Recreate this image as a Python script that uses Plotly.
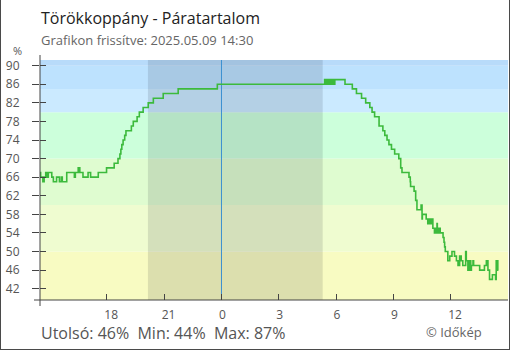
import datetime as dt
import plotly.graph_objects as go

# Relative humidity (%) readings: clock time of each change and the new value
times = [
    "14:30", "14:32", "14:39", "14:43", "14:48", "14:52", "14:56", "15:07", "15:12", "15:22",
    "15:31", "15:37", "15:40", "15:54", "16:18", "16:21", "16:30", "16:35", "16:45", "17:01",
    "17:09", "17:33", "17:59", "18:23", "18:35", "18:41", "18:44", "18:47", "18:51", "18:56",
    "19:00", "19:17", "19:23", "19:35", "19:42", "19:54", "20:10", "20:26", "20:57", "21:44",
    "23:47", "05:24", "05:27", "05:31", "05:35", "05:38", "05:43", "05:46", "05:50", "05:53",
    "05:54", "05:56", "06:28", "06:51", "07:04", "07:20", "07:33", "07:46", "07:53", "08:01",
    "08:15", "08:27", "08:33", "08:40", "08:46", "08:54", "09:04", "09:17", "09:23", "09:27",
    "09:49", "09:53", "09:54", "10:05", "10:10", "10:14", "10:27", "10:30", "10:31", "10:43",
    "10:48", "10:50", "10:52", "10:55", "10:57", "11:00", "11:04", "11:09", "11:12", "11:15",
    "11:17", "11:18", "11:20", "11:23", "11:25", "11:27", "11:36", "11:39", "11:41", "11:43",
    "11:51", "11:57", "12:04", "12:12", "12:18", "12:23", "12:28", "12:33", "12:38", "12:47",
    "12:49", "12:54", "12:56", "12:58", "13:01", "13:03", "13:05", "13:10", "13:12", "13:31",
    "13:46", "13:52", "13:57", "14:02", "14:11", "14:21", "14:23", "14:28", "14:30",
]
humidity = [
    67, 66, 65, 66, 67, 66, 67, 66, 65, 66,
    65, 66, 65, 67, 66, 67, 68, 67, 66, 67,
    66, 67, 68, 69, 70, 71, 72, 73, 74, 75,
    76, 77, 78, 79, 80, 81, 82, 83, 84, 85,
    86, 87, 86, 87, 86, 87, 86, 87, 86, 87,
    86, 87, 86, 85, 84, 83, 82, 81, 80, 79,
    77, 76, 75, 74, 73, 72, 71, 70, 68, 67,
    66, 65, 64, 63, 61, 59, 60, 57, 58, 57,
    56, 57, 56, 57, 56, 57, 55, 54, 55, 54,
    56, 54, 55, 54, 55, 54, 53, 52, 51, 50,
    48, 49, 50, 49, 48, 47, 49, 48, 47, 50,
    48, 46, 48, 46, 48, 46, 47, 48, 47, 46,
    47, 48, 46, 44, 45, 44, 48, 46, 46,
]

start_day = dt.date(2025, 5, 8)
window_start = "2025-05-08 14:30"
window_end = "2025-05-09 15:00"
sunset, sunrise = "2025-05-08 20:09", "2025-05-09 05:18"
midnight = "2025-05-09 00:00"

y_range = [39.56, 91.22]
y_ticks = list(range(42, 91, 4))
x_tick_hours = ["18:00", "21:00", "00:00", "03:00", "06:00", "09:00", "12:00", "15:00"]

# Humidity colour bands (lower bound, upper bound, fill)
band_edges = [y_range[0], 50, 60, 70, 80, 85, 90, y_range[1]]
band_colors = ["#f8fbc2", "#effcd0", "#dffcd0", "#ccffdb", "#cbeaff", "#bde2fe", "#b8dbfa"]

title_text = "Törökkoppány - Páratartalom"
subtitle_text = "Grafikon frissítve: 2025.05.09 14:30"
summary_text = "Utolsó: 46%  Min: 44%  Max: 87%"
credit_text = "© Időkép"


def to_datetimes(clock_list):
    day = start_day
    prev = None
    out = []
    for c in clock_list:
        h, m = map(int, c.split(":"))
        if prev is not None and (h, m) < prev:
            day = day + dt.timedelta(days=1)
        prev = (h, m)
        out.append(dt.datetime(day.year, day.month, day.day, h, m))
    return out


x_vals = to_datetimes(times)
tick_vals = to_datetimes(["15:00"] + x_tick_hours)[1:]
tick_text = [str(int(t.split(":")[0])) for t in x_tick_hours]

W, H = 510, 350
L, R, T, B = 40, 2, 60, 50
PW, PH = W - L - R, H - T - B


def px(x):
    return (x - L) / PW


def py(y):
    return (T + PH - y) / PH


FONT = "Open Sans"
AXIS = "#444444"

fig = go.Figure()
fig.add_trace(go.Scatter(
    x=x_vals, y=humidity, mode="lines", line=dict(color="#3cba3c", width=1.6, shape="hv"),
    hoverinfo="skip", showlegend=False,
))
# companion axis carrying the inner half of the y ticks
fig.add_trace(go.Scatter(x=[], y=[], yaxis="y2", showlegend=False, hoverinfo="skip"))

shapes = []
for lo, hi, col in zip(band_edges[:-1], band_edges[1:], band_colors):
    shapes.append(dict(type="rect", xref="paper", yref="y", x0=0, x1=1, y0=lo, y1=hi,
                       fillcolor=col, line=dict(width=0), layer="below"))
shapes.append(dict(type="rect", xref="x", yref="paper", x0=sunset, x1=sunrise, y0=0, y1=1,
                   fillcolor="rgba(0,0,20,0.11)", line=dict(width=0), layer="below"))
shapes.append(dict(type="line", xref="x", yref="paper", x0=midnight, x1=midnight, y0=0, y1=1,
                   line=dict(color="#3b8fd0", width=1), layer="below"))
# axis lines, running a little past the plot corner
shapes.append(dict(type="line", xref="paper", yref="paper", x0=0, x1=0, y0=py(306), y1=py(55),
                   line=dict(color=AXIS, width=1)))
shapes.append(dict(type="line", xref="paper", yref="paper", x0=px(34), x1=1, y0=0, y1=0,
                   line=dict(color=AXIS, width=1)))
# outer frame
for x0, y0, x1, y1 in [(0.5, 0, 0.5, 350), (509.5, 0, 509.5, 350), (0, 349.5, 510, 349.5)]:
    shapes.append(dict(type="line", xref="paper", yref="paper", x0=px(x0), x1=px(x1),
                       y0=py(y0), y1=py(y1), line=dict(color="#4a4a4a", width=1)))

annotations = [
    dict(text=title_text, x=px(40), y=py(18), xanchor="left", yanchor="middle",
         font=dict(size=16, color="#222222", family=FONT)),
    dict(text=subtitle_text, x=px(40), y=py(40.5), xanchor="left", yanchor="middle",
         font=dict(size=13, color="#666666", family=FONT)),
    dict(text="%", x=px(17.5), y=py(51), xanchor="center", yanchor="middle",
         font=dict(size=11, color="#555555", family=FONT)),
    dict(text=summary_text, x=px(40), y=py(333), xanchor="left", yanchor="middle",
         font=dict(size=16, color="#555555", family=FONT)),
    dict(text=credit_text, x=px(425), y=py(331.5), xanchor="left", yanchor="middle",
         font=dict(size=13, color="#666666", family=FONT)),
]
for a in annotations:
    a.update(xref="paper", yref="paper", showarrow=False, borderpad=0)

fig.update_layout(
    width=W, height=H, margin=dict(l=L, r=R, t=T, b=B, pad=0),
    paper_bgcolor="white", plot_bgcolor="white",
    font=dict(family=FONT, color="#555555", size=12),
    shapes=shapes, annotations=annotations, showlegend=False,
    xaxis=dict(type="date", range=[window_start, window_end], tickvals=tick_vals, ticktext=tick_text,
               ticks="inside", ticklen=6, tickcolor=AXIS, tickwidth=1, showline=False,
               showgrid=False, zeroline=False, ticklabelposition="outside right",
               ticklabelshift=-3, ticklabelstandoff=6,
               tickfont=dict(size=12, color="#555555", family=FONT)),
    yaxis=dict(range=y_range, tickvals=y_ticks, ticks="outside", ticklen=7, tickcolor=AXIS,
               tickwidth=1, showline=False, showgrid=False, zeroline=False,
               ticklabelstandoff=10, tickfont=dict(size=12, color="#555555", family=FONT)),
    yaxis2=dict(range=y_range, tickvals=y_ticks, ticks="inside", ticklen=6, tickcolor=AXIS,
                tickwidth=1, overlaying="y", side="left", showticklabels=False,
                showline=False, showgrid=False, zeroline=False),
)

fig.write_html("out.html")
